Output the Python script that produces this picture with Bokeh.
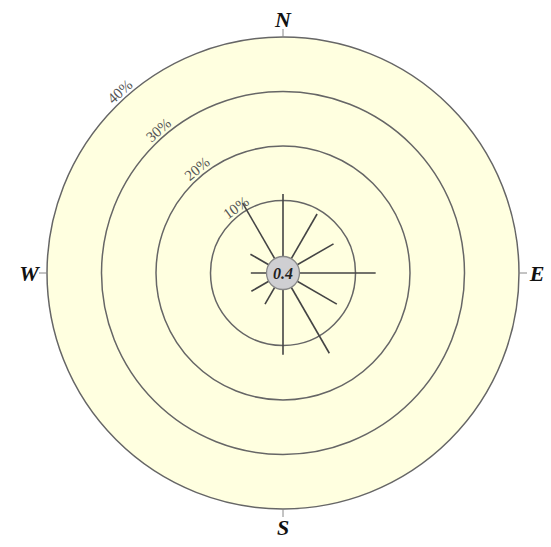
import math
from bokeh.plotting import figure
from bokeh.models import Range1d
from bokeh.core.properties import value
from bokeh.embed import file_html
from bokeh.resources import INLINE

# ---- data ----
directions = [0, 30, 60, 90, 120, 150, 180, 210, 240, 270, 300, 330]   # bearings (deg)
frequency = [11.2, 9.2, 7.4, 13.7, 8.1, 13.7, 11.7, 3.3, 3.4, 2.6, 3.6, 11.5]  # percent
calm = 0.4
ring_levels = [10, 20, 30, 40]
ring_labels = ["10%", "20%", "30%", "40%"]
compass_labels = ["N", "E", "S", "W"]
compass_bearings = [0, 90, 180, 270]

# ---- geometry (pixel-like data units) ----
HOLE = 18.0      # radius of calm circle area
SCALE = 5.45     # units per percent
W, H = 551, 547
CX, CY = 282.5, 272.5

def rad(pct):
    return HOLE + pct * SCALE

p = figure(width=W, height=H, output_backend="svg", toolbar_location=None,
           x_range=Range1d(-CX, W - CX), y_range=Range1d(-(H - CY), CY),
           min_border=0, match_aspect=False)
p.axis.visible = False
p.grid.visible = False
p.outline_line_color = None
p.background_fill_color = "white"
p.border_fill_color = "white"

ring_color = "#666666"
outer = rad(max(ring_levels))

# outer filled disc
p.circle(x=[0], y=[0], radius=[outer], fill_color="#FFFFE0",
         line_color=ring_color, line_width=1.5)
# inner rings
for lv in ring_levels[:-1]:
    p.circle(x=[0], y=[0], radius=[rad(lv)], fill_color=None,
             line_color=ring_color, line_width=1.5)

# compass ticks and labels
tx0, ty0, tx1, ty1, lx, ly = [], [], [], [], [], []
for b in compass_bearings:
    t = math.radians(b)
    tx0.append(outer * math.sin(t)); ty0.append(outer * math.cos(t))
    tx1.append((outer + 8) * math.sin(t)); ty1.append((outer + 8) * math.cos(t))
    lx.append((outer + 18) * math.sin(t)); ly.append((outer + 18) * math.cos(t))
p.segment(x0=tx0, y0=ty0, x1=tx1, y1=ty1, line_color="#888888", line_width=1)
p.text(x=lx, y=ly, text=compass_labels, text_align="center", text_baseline="middle",
       text_font=value("Liberation Serif"), text_font_style="bold italic",
       text_font_size="22px", text_color="#111111")

# ring labels along the circle at NW
rlx, rly, rang = [], [], []
for lv in ring_levels:
    r = rad(lv) + 8
    bc = 315 + math.degrees(13.0 / r)
    t = math.radians(bc)
    rlx.append(r * math.sin(t)); rly.append(r * math.cos(t))
    rang.append(math.radians(360 - bc))
p.text(x=rlx, y=rly, text=ring_labels, angle=rang, text_align="center",
       text_baseline="middle", text_font=value("Liberation Serif"),
       text_font_size="15px", text_color="#555555")

# spokes
sx, sy = [], []
for d, f in zip(directions, frequency):
    t = math.radians(d)
    sx.append(rad(f) * math.sin(t)); sy.append(rad(f) * math.cos(t))
p.segment(x0=[0] * len(sx), y0=[0] * len(sy), x1=sx, y1=sy,
          line_color="#444444", line_width=1.6)

# calm circle
p.circle(x=[0], y=[0], radius=[16.5], fill_color="#CFCFD2", line_color="#888888",
         line_width=1.3)
p.text(x=[0], y=[0], text=[f"{calm}"], text_align="center", text_baseline="middle",
       text_font=value("Liberation Serif"), text_font_style="bold italic",
       text_font_size="16px", text_color="#222222")

open("out.html", "w").write(file_html(p, INLINE))
